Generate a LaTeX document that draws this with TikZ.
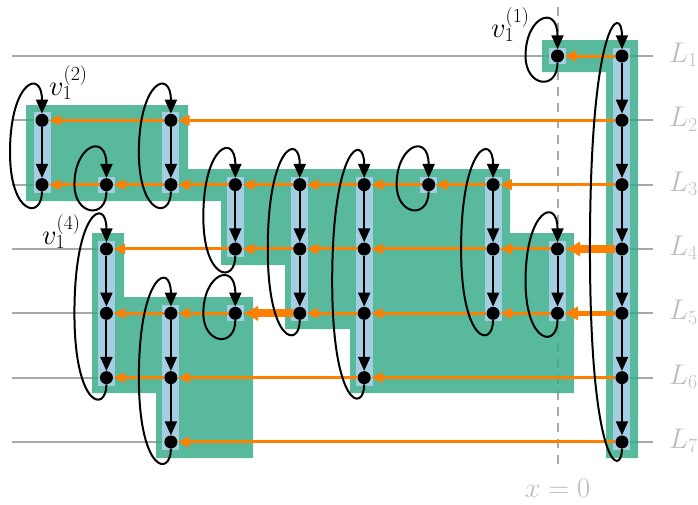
\RequirePackage{fix-cm}
\documentclass[tikz,border=0pt]{standalone}
\usetikzlibrary{arrows.meta,calc}
\definecolor{grn}{HTML}{34AA87}
\definecolor{lblue}{HTML}{A6CEE3}
\definecolor{orng}{HTML}{FF7F00}
\definecolor{lgray}{HTML}{A8A8A8}
\definecolor{tgray}{HTML}{BEBEBE}
\tikzset{
  dot/.style={circle,fill=black,inner sep=0pt,minimum size=13pt},
  blk/.style={line width=2pt,-{Triangle[length=14pt,width=12pt]}},
  blkloop/.style={line width=2pt,-{Triangle[length=14pt,width=12pt]}},
  oarr/.style={draw=orng,line width=3pt,-{Triangle[length=12pt,width=10pt]}},
  oarrm/.style={draw=orng,line width=5.5pt,-{Triangle[length=14pt,width=13pt]}},
  oarrh/.style={draw=orng,line width=8pt,-{Latex[length=16pt,width=16pt]}},
  rowline/.style={draw=lgray,line width=2pt},
  zeroline/.style={draw=lgray,line width=2.5pt,dash pattern=on 9pt off 7pt},
  lab/.style={inner sep=0pt,text=tgray},
  vlab/.style={inner sep=0pt,anchor=base west}
}
\begin{document}
\begin{tikzpicture}[x=1pt,y=-1pt,font=\fontsize{28.5}{32}\selectfont]
\useasboundingbox (0,0) rectangle (698,504);
% coordinates
\foreach \c/\r in {0/2,0/3,1/3,1/4,1/5,1/6,2/2,2/3,2/5,2/6,2/7,3/3,3/4,3/5,4/3,4/4,4/5,5/3,5/4,5/5,5/6,6/3,7/3,7/4,7/5,8/1,8/4,8/5,9/1,9/2,9/3,9/4,9/5,9/6,9/7}
  \coordinate (c\c\r) at ({42+64.44*\c},{56+64.33*(\r-1)});
% row lines and labels
\foreach \r in {1,...,7}{
  \coordinate (rl\r) at (12,{56+64.33*(\r-1)});
  \coordinate (rr\r) at (653,{56+64.33*(\r-1)});
  \draw[rowline] (rl\r) -- (rr\r);
  \node[lab,anchor=base west] (L\r) at (669,{62.5+64.33*(\r-1)}) {$L_{\r}$};
}
% x = 0 line
\coordinate (z0) at (558,7);
\coordinate (z1) at (558,466);
\draw[zeroline] (z0) -- (z1);
\node[lab,anchor=base] (xz) at (557.5,497) {$x=0$};
% green regions
\fill[grn,opacity=0.82]
  (542,40) rectangle (638,72) (606,40) rectangle (638,458)
  (26,105) rectangle (188,201) (156,169) rectangle (510,201)
  (221,201) rectangle (510,265) (285,265) rectangle (510,329)
  (510,233) rectangle (574,393) (350,329) rectangle (574,393)
  (92,233) rectangle (124,393) (92,297) rectangle (253,393)
  (156,297) rectangle (253,458);
% blue boxes
\foreach \c/\t/\b in {0/2/3,1/3/3,1/4/6,2/2/3,2/5/7,3/3/4,3/5/5,4/3/5,5/3/6,6/3/3,7/3/5,8/1/1,8/4/5,9/1/7}
  \fill[lblue] ($(c\c\t)+(-8.5,-8)$) rectangle ($(c\c\b)+(8.5,8)$);
% dots
\foreach \c/\r in {0/2,0/3,1/3,1/4,1/5,1/6,2/2,2/3,2/5,2/6,2/7,3/3,3/4,3/5,4/3,4/4,4/5,5/3,5/4,5/5,5/6,6/3,7/3,7/4,7/5,8/1,8/4,8/5,9/1,9/2,9/3,9/4,9/5,9/6,9/7}
  \node[dot] (n\c\r) at (c\c\r) {};
% orange arrows
\foreach \r/\a/\b in {1/9/8,2/9/2,2/2/0,3/9/7,3/7/6,3/6/5,3/5/4,3/4/3,3/3/2,3/2/1,3/1/0,4/8/7,4/7/5,4/5/4,4/4/3,4/3/1,5/8/7,5/7/5,5/5/4,5/3/2,5/2/1,6/9/5,6/5/2,6/2/1,7/9/2}
  \draw[oarr] (n\a\r) -- (n\b\r);
\draw[oarrm] (n95) -- (n85);
\draw[oarrh] (n94) -- (n84);
\draw[oarrh] (n45) -- (n35);
% chain arrows
\foreach \c/\a/\b in {0/2/3,1/4/5,1/5/6,2/2/3,2/5/6,2/6/7,3/3/4,4/3/4,4/4/5,5/3/4,5/4/5,5/5/6,7/3/4,7/4/5,8/4/5,9/1/2,9/2/3,9/3/4,9/4/5,9/5/6,9/6/7}
  \draw[blk] (n\c\a) -- (n\c\b);
% back loops
\foreach \c/\t/\b in {0/2/3,1/3/3,1/4/6,2/2/3,2/5/7,3/3/4,3/5/5,4/3/5,5/3/6,6/3/3,7/3/5,8/1/1,8/4/5,9/1/7}
  \draw[blkloop] (n\c\b.south) .. controls ($(n\c\b)+(0,35)$) and ($(n\c\b)+(-32,31)$) .. ($(n\c\t)!0.5!(n\c\b)+(-32,0)$) .. controls ($(n\c\t)+(-32,-40)$) and ($(n\c\t)+(0,-52)$) .. (n\c\t.north);
% labels
\node[vlab] (v2) at (49,95) {$v_1^{(2)}$};
\node[vlab] (v1) at (491,37) {$v_1^{(1)}$};
\node[vlab] (v4) at (42,244) {$v_1^{(4)}$};
\end{tikzpicture}
\end{document}
